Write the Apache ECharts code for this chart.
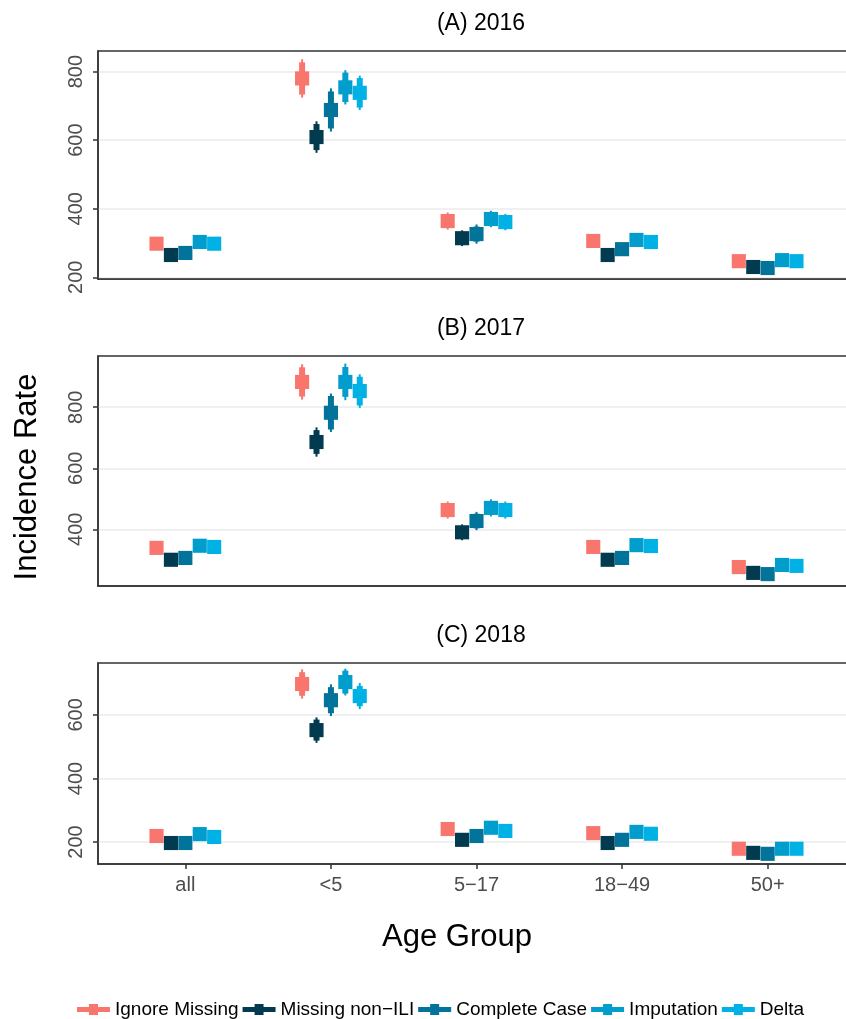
<!DOCTYPE html>
<html>
<head>
<meta charset="utf-8">
<script src="https://cdn.jsdelivr.net/npm/echarts@6/dist/echarts.min.js"></script>
<style>
  html, body { margin: 0; padding: 0; background: #ffffff; }
  #chart { width: 846px; height: 1019px; }
</style>
</head>
<body>
<div id="chart"></div>
<script>
// Age groups on the x axis and the five estimation methods
const ageGroups = ['all', '<5', '5\u221217', '18\u221249', '50+'];
const methods = ['Ignore Missing', 'Missing non\u2212ILI', 'Complete Case', 'Imputation', 'Delta'];
const methodColors = ['#F8766D', '#023A4F', '#02739B', '#009DCD', '#00B1E6'];

// Point estimates, one row per method, one column per age group
const est2016 = [
  [298, 780, 364, 306, 247],
  [265, 609, 314, 265, 230],
  [271, 688, 326, 282, 227],
  [303, 754, 370, 309, 250],
  [298, 738, 361, 303, 247]
];
const est2017 = [
  [339, 883, 463, 342, 276],
  [300, 686, 390, 300, 257],
  [306, 782, 427, 306, 253],
  [346, 883, 470, 348, 283],
  [342, 853, 463, 345, 280]
];
const est2018 = [
  [219, 697, 241, 228, 179],
  [197, 552, 207, 197, 166],
  [197, 646, 219, 207, 163],
  [225, 703, 245, 232, 179],
  [216, 659, 235, 226, 179]
];

// Half-widths of the inner (thick) and outer (thin) intervals
const inner2016 = [
  [4, 47, 19, 10, 6],
  [4, 38, 18, 9, 6],
  [4, 54, 22, 10, 6],
  [4, 43, 19, 10, 6],
  [4, 43, 19, 10, 6]
];
const outer2016 = [
  [6, 56, 25, 14, 9],
  [6, 46, 23, 13, 8],
  [6, 63, 28, 14, 9],
  [6, 50, 24, 14, 9],
  [6, 50, 24, 14, 9]
];
const inner2017 = [
  [5, 48, 22, 11, 7],
  [5, 39, 20, 10, 7],
  [5, 55, 24, 11, 7],
  [5, 49, 22, 11, 7],
  [5, 47, 22, 11, 7]
];
const outer2017 = [
  [7, 58, 28, 15, 10],
  [7, 48, 26, 14, 9],
  [7, 63, 30, 15, 10],
  [7, 60, 28, 15, 10],
  [7, 55, 28, 15, 10]
];
const inner2018 = [
  [4, 37, 12, 9, 6],
  [4, 33, 11, 8, 6],
  [4, 41, 13, 9, 6],
  [4, 36, 12, 9, 6],
  [4, 32, 12, 9, 6]
];
const outer2018 = [
  [6, 46, 16, 12, 8],
  [6, 40, 15, 11, 8],
  [6, 50, 18, 12, 8],
  [6, 42, 16, 12, 8],
  [6, 41, 16, 12, 8]
];

// Panel titles, y ranges and tick values
const panelTitles = ['(A) 2016', '(B) 2017', '(C) 2018'];
const yRanges = [[195, 860], [214, 968], [131, 763]];
const yTicks = [[200, 400, 600, 800], [400, 600, 800], [200, 400, 600]];
const groupPositions = [0, 1, 2, 3, 4];

const panelData = [
  { est: est2016, inner: inner2016, outer: outer2016 },
  { est: est2017, inner: inner2017, outer: outer2017 },
  { est: est2018, inner: inner2018, outer: outer2018 }
];

const FONT = "'Liberation Sans', Arial, Helvetica, sans-serif";
const AXIS_DARK = '#333333';
// Panels run a little past the right edge of the canvas
const panelBoxes = [
  { top: 51, height: 228 },
  { top: 356, height: 230 },
  { top: 663, height: 201 }
];

// Point + two interval bars, dodged within each age group
function makeRenderer(m) {
  return function (params, api) {
    const gi = api.value(0);
    const v = api.value(1);
    const hin = api.value(2);
    const hout = api.value(3);
    const unit = api.size([1, 0])[0];
    const step = unit * 0.099;
    const sq = unit * 0.097;
    const base = api.coord([gi, v]);
    const x = base[0] + (m - 2) * step;
    const oTop = api.coord([gi, v + hout])[1];
    const oBot = api.coord([gi, v - hout])[1];
    const iTop = api.coord([gi, v + hin])[1];
    const iBot = api.coord([gi, v - hin])[1];
    const color = api.visual('color');
    return {
      type: 'group',
      children: [
        { type: 'rect', shape: { x: x - 1, y: oTop, width: 2, height: oBot - oTop }, style: { fill: color } },
        { type: 'rect', shape: { x: x - 3, y: iTop, width: 6, height: iBot - iTop }, style: { fill: color } },
        { type: 'rect', shape: { x: x - sq / 2, y: base[1] - sq / 2, width: sq, height: sq }, style: { fill: color } }
      ]
    };
  };
}

const grids = [], xAxes = [], yAxes = [], series = [], titles = [];

panelBoxes.forEach((box, p) => {
  grids.push({
    left: 98, width: 757, top: box.top, height: box.height,
    outerBoundsMode: 'none', containLabel: false,
    show: true, borderColor: AXIS_DARK, borderWidth: 1.5, backgroundColor: 'transparent'
  });
  const isBottom = p === panelBoxes.length - 1;
  xAxes.push({
    type: 'value', gridIndex: p, min: -0.6, max: 4.6, position: 'bottom',
    axisLine: { show: true, onZero: false, lineStyle: { color: AXIS_DARK, width: 1.5 } },
    axisTick: { show: isBottom, length: 5, customValues: groupPositions, lineStyle: { color: AXIS_DARK, width: 1.5 } },
    axisLabel: {
      show: isBottom, margin: 11, fontSize: 20, color: '#4D4D4D', fontFamily: FONT,
      customValues: groupPositions, formatter: v => ageGroups[Math.round(v)]
    },
    splitLine: { show: false }
  });
  yAxes.push({
    type: 'value', gridIndex: p, min: yRanges[p][0], max: yRanges[p][1], position: 'left',
    axisLine: { show: true, onZero: false, lineStyle: { color: AXIS_DARK, width: 1.5 } },
    axisTick: { show: true, length: 5, customValues: yTicks[p], lineStyle: { color: AXIS_DARK, width: 1.5 } },
    axisLabel: { rotate: 90, margin: 12, fontSize: 20, color: '#4D4D4D', fontFamily: FONT, customValues: yTicks[p] },
    splitLine: { show: true, lineStyle: { color: '#EBEBEB', width: 1.6 } }
  });
  titles.push({
    text: panelTitles[p], left: 476, top: box.top - 44, textAlign: 'center',
    textStyle: { fontSize: 23, fontWeight: 'normal', color: '#000000', fontFamily: FONT }
  });
  const d = panelData[p];
  methods.forEach((name, m) => {
    series.push({
      type: 'custom', name: name, xAxisIndex: p, yAxisIndex: p,
      itemStyle: { color: methodColors[m] },
      renderItem: makeRenderer(m),
      encode: { x: 0, y: 1 },
      data: groupPositions.map(gi => [gi, d.est[m][gi], d.inner[m][gi], d.outer[m][gi]]),
      z: 3
    });
  });
});

const crossIcon = 'path://M0,3H12V0H21V3H33V8H21V11H12V8H0Z';

const chart = echarts.init(document.getElementById('chart'), null, { renderer: 'canvas' });
chart.setOption({
  animation: false,
  backgroundColor: '#ffffff',
  title: titles,
  grid: grids,
  xAxis: xAxes,
  yAxis: yAxes,
  series: series,
  legend: {
    data: methods.map(n => ({ name: n, icon: crossIcon })),
    left: 72, top: 995, itemGap: 4, itemWidth: 33, itemHeight: 11,
    textStyle: { fontSize: 19, color: '#000000', fontFamily: FONT }
  },
  graphic: [
    {
      type: 'text', x: 27, y: 477, rotation: Math.PI / 2,
      style: { text: 'Incidence Rate', fontSize: 31, fill: '#000000', fontFamily: FONT, align: 'center', verticalAlign: 'middle' }
    },
    {
      type: 'text', x: 457, y: 937,
      style: { text: 'Age Group', fontSize: 31, fill: '#000000', fontFamily: FONT, align: 'center', verticalAlign: 'middle' }
    }
  ]
});
</script>
</body>
</html>
